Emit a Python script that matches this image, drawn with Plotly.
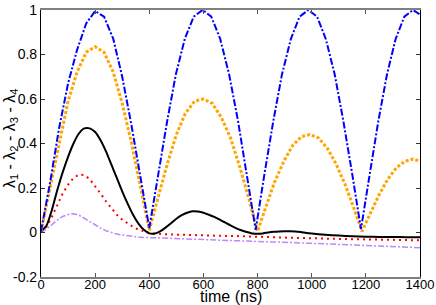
import plotly.graph_objects as go

# ---- data ----
t_blue = [0, 33, 67, 100, 133, 167, 200, 233, 267, 300, 333, 367, 400,
          433, 466, 498, 531, 564, 597, 629, 662, 695, 728, 760, 793,
          825, 858, 890, 923, 955, 988, 1020, 1052, 1085, 1117, 1150, 1182,
          1214, 1246, 1278, 1310, 1342, 1374, 1400]
lam_blue = [0.005, 0.22, 0.47, 0.67, 0.82, 0.94, 0.995, 0.97, 0.87, 0.70, 0.49, 0.25, 0.02,
            0.26, 0.50, 0.71, 0.87, 0.97, 1.0, 0.97, 0.87, 0.71, 0.50, 0.26, 0.012,
            0.26, 0.50, 0.71, 0.87, 0.97, 1.0, 0.97, 0.87, 0.71, 0.50, 0.26, 0.015,
            0.26, 0.50, 0.71, 0.87, 0.97, 1.0, 0.98]

t_orange = [0, 33, 67, 100, 133, 167, 200, 233, 267, 300, 333, 367, 400,
            433, 467, 500, 533, 567, 600, 633, 667, 700, 733, 767, 800,
            832, 864, 897, 929, 961, 993, 1025, 1057, 1089, 1122, 1154, 1186,
            1218, 1249, 1281, 1312, 1344, 1375, 1400]
lam_orange = [0.005, 0.20, 0.41, 0.59, 0.72, 0.81, 0.835, 0.81, 0.72, 0.58, 0.41, 0.21, 0.01,
              0.16, 0.31, 0.44, 0.535, 0.59, 0.60, 0.58, 0.515, 0.425, 0.30, 0.155, 0.005,
              0.12, 0.23, 0.32, 0.39, 0.43, 0.44, 0.425, 0.38, 0.31, 0.22, 0.115, 0.005,
              0.09, 0.17, 0.24, 0.29, 0.32, 0.33, 0.32]

t_slow = [0, 20, 40, 60, 80, 100, 120, 140, 160, 180, 200, 220, 240, 260, 280, 300,
          320, 340, 360, 380, 400, 420, 440, 460, 480, 500, 520, 540, 560, 580, 600,
          620, 640, 660, 680, 700, 720, 740, 760, 780, 800, 820, 840, 860, 880, 900,
          920, 940, 960, 980, 1000, 1050, 1100, 1150, 1200, 1250, 1300, 1350, 1400]
lam_black = [0.005, 0.03, 0.10, 0.19, 0.27, 0.34, 0.40, 0.445, 0.468, 0.468, 0.452, 0.415,
             0.365, 0.305, 0.245, 0.185, 0.13, 0.08, 0.04, 0.012, -0.004, -0.005, 0.005,
             0.022, 0.042, 0.062, 0.078, 0.089, 0.095, 0.094, 0.089, 0.08, 0.07, 0.058,
             0.045, 0.032, 0.02, 0.01, 0.002, -0.004, -0.006, -0.004, 0.0, 0.003, 0.005,
             0.006, 0.006, 0.005, 0.002, -0.002, -0.005, -0.01, -0.014, -0.017, -0.019,
             -0.02, -0.02, -0.021, -0.021]
lam_red = [0.005, 0.025, 0.07, 0.125, 0.175, 0.215, 0.245, 0.26, 0.258, 0.24, 0.21, 0.175,
           0.14, 0.108, 0.08, 0.058, 0.04, 0.025, 0.013, 0.004, -0.002, -0.005, -0.007,
           -0.008, -0.009, -0.01, -0.01, -0.011, -0.011, -0.012, -0.012, -0.013, -0.013,
           -0.014, -0.015, -0.016, -0.016, -0.017, -0.018, -0.019, -0.02, -0.02, -0.021,
           -0.022, -0.022, -0.023, -0.023, -0.024, -0.025, -0.025, -0.026, -0.027, -0.029,
           -0.03, -0.031, -0.032, -0.033, -0.034, -0.035]
lam_violet = [0.0, 0.015, 0.035, 0.056, 0.072, 0.081, 0.084, 0.078, 0.064, 0.048, 0.033,
              0.02, 0.008, -0.001, -0.007, -0.011, -0.015, -0.018, -0.02, -0.022, -0.023,
              -0.024, -0.025, -0.026, -0.027, -0.028, -0.029, -0.029, -0.03, -0.031, -0.032,
              -0.033, -0.034, -0.035, -0.036, -0.037, -0.038, -0.039, -0.04, -0.04, -0.041,
              -0.041, -0.042, -0.043, -0.043, -0.044, -0.045, -0.045, -0.046, -0.047, -0.048,
              -0.05, -0.052, -0.055, -0.057, -0.06, -0.062, -0.065, -0.068]

x_ticks = [0, 200, 400, 600, 800, 1000, 1200, 1400]
y_ticks = [-0.2, 0, 0.2, 0.4, 0.6, 0.8, 1]
y_tick_text = ["-0.2", "0", "0.2", "0.4", "0.6", "0.8", "1"]

FONT = "Liberation Sans, Arial, Helvetica, sans-serif"

fig = go.Figure()
fig.add_trace(go.Scatter(x=t_slow, y=lam_violet, mode="lines",
                         line=dict(color="#bb88ff", width=1.5, dash="6px,2px,2px,2px")))
fig.add_trace(go.Scatter(x=t_slow, y=lam_red, mode="lines",
                         line=dict(color="#ff0000", width=2, dash="2px,4px")))
fig.add_trace(go.Scatter(x=t_slow, y=lam_black, mode="lines",
                         line=dict(color="#000000", width=2, shape="spline", smoothing=0.6)))
fig.add_trace(go.Scatter(x=t_orange, y=lam_orange, mode="lines",
                         line=dict(color="#ffa500", width=3, dash="3px,2px")))
fig.add_trace(go.Scatter(x=t_blue, y=lam_blue, mode="lines",
                         line=dict(color="#0000ff", width=2, dash="7px,2px,2px,2px")))

fig.update_layout(
    width=436, height=305,
    margin=dict(l=41, r=16, t=10, b=28, autoexpand=False),
    paper_bgcolor="white", plot_bgcolor="white",
    showlegend=False,
    font=dict(family=FONT, size=14, color="black"),
    xaxis=dict(range=[0, 1400], tickvals=x_ticks, ticks="inside", ticklen=4,
               tickcolor="#555555", showline=True, linecolor="#808080", linewidth=1.5,
               mirror="ticks", showgrid=False, zeroline=False, automargin=False,
               ticklabelstandoff=-5,
               tickfont=dict(family=FONT, size=13)),
    yaxis=dict(range=[-0.2, 1], tickvals=y_ticks, ticktext=y_tick_text, ticks="inside",
               ticklen=4, tickcolor="#333333", showline=True, linecolor="#000000",
               linewidth=1.2, mirror="ticks", showgrid=False, zeroline=False,
               automargin=False,
               tickfont=dict(family=FONT, size=14)),
    annotations=[
        dict(text="time (ns)", xref="paper", yref="paper", x=0.5, y=-0.073,
             xanchor="center", yanchor="middle", showarrow=False,
             font=dict(family=FONT, size=16)),
        dict(text="λ<sub>1</sub> - λ<sub>2</sub> - λ<sub>3</sub> - λ<sub>4</sub>",
             xref="paper", yref="paper", x=-0.082, y=0.52, textangle=-90,
             xanchor="center", yanchor="middle", showarrow=False,
             font=dict(family=FONT, size=16)),
    ],
)

fig.write_html("out.html", config={"displayModeBar": False},
               post_script="document.body.style.margin='0';document.body.style.overflow='hidden';")
